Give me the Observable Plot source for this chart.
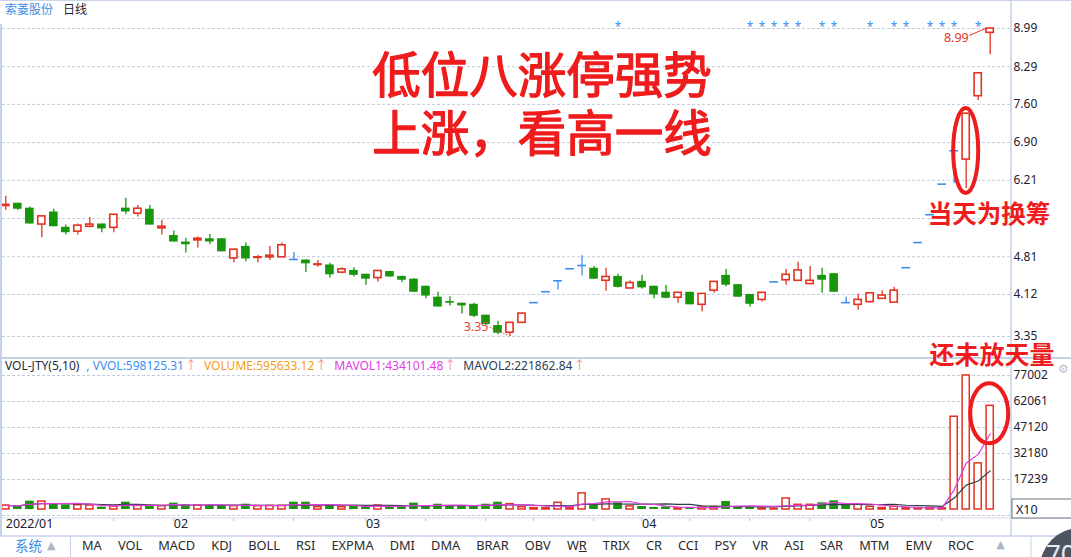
<!DOCTYPE html>
<html><head><meta charset="utf-8">
<script src="https://cdn.jsdelivr.net/npm/d3@7"></script>
<script src="https://cdn.jsdelivr.net/npm/@observablehq/plot@0.6"></script>
<style>
html,body{margin:0;padding:0;background:#fff;}
#wrap{position:relative;width:1071px;height:557px;overflow:hidden;background:#fff;font-family:"Noto Sans","Noto Sans CJK SC",sans-serif;}
.abs{position:absolute;white-space:nowrap;line-height:1;}
#price,#vol{position:absolute;left:0;}
#price{top:0}
#vol{top:359px}
#over{position:absolute;left:0;top:0;pointer-events:none}
#toolbar{position:absolute;left:82px;top:539px;display:flex;gap:16.1px;font-size:12.8px;color:#2a2a2a;white-space:nowrap;line-height:1;}
#vhdr{position:absolute;left:5px;top:360px;display:flex;gap:7px;font-size:12px;white-space:nowrap;line-height:1;}
</style></head><body>
<div id="wrap"></div>
<script>
// ---------- data ----------
const stockName = "索菱股份";
const period = "日线";
const monthLabels = ["2022/01","02","03","04","05"];
const monthStart = [0, 14, 30, 53, 72];
const weekTicks = [9, 14, 19, 24, 30, 35, 40, 44, 49, 53, 57, 62, 67, 72, 78];
const starDays = [51, 62, 63, 64, 65, 66, 68, 69, 72, 74, 75, 77, 78, 79, 81];
const open  = [5.74,5.79,5.70,5.40,5.63,5.35,5.27,5.36,5.41,5.34,5.70,5.60,5.68,5.33,5.20,5.08,5.11,5.14,5.14,4.78,5.00,4.79,4.80,4.80,4.76,4.75,4.66,4.66,4.52,4.56,4.49,4.42,4.54,4.45,4.40,4.27,4.07,3.99,3.96,3.94,3.74,3.55,3.42,3.60,3.97,4.17,4.37,4.59,4.65,4.60,4.37,4.45,4.23,4.36,4.27,4.16,4.06,4.16,3.93,4.19,4.47,4.30,4.12,4.02,4.35,4.38,4.37,4.31,4.47,4.50,3.97,3.93,3.98,4.04,3.97,4.61,5.07,5.58,6.14,6.75,6.59,7.75,8.91];
const high  = [5.92,5.79,5.72,5.55,5.68,5.39,5.41,5.53,5.41,5.58,5.88,5.75,5.75,5.48,5.28,5.15,5.17,5.22,5.14,4.94,5.06,4.84,5.00,5.06,4.89,4.75,4.74,4.69,4.61,4.61,4.49,4.55,4.54,4.46,4.41,4.27,4.16,4.08,3.96,3.96,3.74,3.63,3.60,3.77,3.97,4.17,4.37,4.59,4.83,4.63,4.60,4.49,4.37,4.47,4.27,4.29,4.15,4.16,4.13,4.35,4.58,4.30,4.12,4.15,4.35,4.58,4.71,4.63,4.60,4.50,4.07,4.13,4.14,4.19,4.25,4.61,5.07,5.58,6.14,6.75,7.43,8.18,8.99];
const low   = [5.66,5.66,5.41,5.16,5.36,5.21,5.21,5.34,5.25,5.25,5.59,5.54,5.39,5.21,5.08,4.88,4.97,5.03,4.90,4.70,4.72,4.70,4.74,4.80,4.76,4.52,4.62,4.42,4.50,4.44,4.29,4.35,4.44,4.34,4.16,4.04,3.89,3.91,3.76,3.70,3.55,3.38,3.35,3.60,3.97,4.17,4.20,4.59,4.46,4.40,4.18,4.24,4.23,4.22,4.04,4.04,3.96,3.93,3.80,4.14,4.26,4.07,3.89,3.98,4.35,4.29,4.37,4.31,4.14,4.16,3.97,3.83,3.96,4.03,3.97,4.61,5.07,5.58,6.14,6.15,6.06,7.67,8.51];
const close = [5.76,5.68,5.41,5.55,5.36,5.25,5.38,5.40,5.32,5.58,5.63,5.69,5.39,5.36,5.08,5.03,5.14,5.08,4.90,4.94,4.77,4.80,4.83,5.02,4.76,4.68,4.67,4.48,4.58,4.47,4.40,4.55,4.44,4.38,4.16,4.09,3.89,3.96,3.91,3.72,3.57,3.41,3.60,3.77,3.97,4.17,4.37,4.59,4.65,4.40,4.44,4.25,4.33,4.24,4.11,4.05,4.15,3.93,4.13,4.35,4.29,4.07,3.94,4.15,4.35,4.48,4.56,4.37,4.38,4.16,3.97,4.02,4.14,4.10,4.19,4.61,5.07,5.58,6.14,6.75,7.43,8.17,8.99];
const volume = [2300,1900,4800,4600,3450,2500,2500,2300,1350,1700,4200,2100,2300,1900,3650,2700,2300,2500,2300,1900,3050,1900,2100,2100,4200,4200,1350,2300,1350,2300,1550,2300,1700,1700,3650,1900,3050,2300,1700,1900,3050,4200,3050,1350,770,700,3850,800,9250,2300,5800,3850,1750,1750,1150,1550,770,770,1150,1150,4600,1750,1750,600,350,6350,2700,2700,3850,5000,2700,2700,1550,860,1550,700,800,900,700,53300,77002,26500,59563];
const priceTicks = [3.35, 4.12, 4.81, 5.51, 6.21, 6.90, 7.60, 8.29, 8.99];
const priceLabels = [3.35, 4.12, 4.81, 6.21, 6.90, 7.60, 8.29, 8.99];
const volTicks = [17239, 32180, 47120, 62061, 77002];
const volHeader = [
  {t:"VOL-JTY(5,10)", c:"#1f2b3b", arrow:false},
  {t:", VVOL:598125.31", c:"#3d8ef0", arrow:true},
  {t:"VOLUME:595633.12", c:"#f59d16", arrow:true},
  {t:"MAVOL1:434101.48", c:"#e23de2", arrow:true},
  {t:"MAVOL2:221862.84", c:"#2c3e50", arrow:true}
];
const toolbarItems = ["MA","VOL","MACD","KDJ","BOLL","RSI","EXPMA","DMI","DMA","BRAR","OBV","WR","TRIX","CR","CCI","PSY","VR","ASI","SAR","MTM","EMV","ROC"];
const title1 = "低位八涨停强势", title2 = "上涨，看高一线";
const note1 = "当天为换筹", note2 = "还未放天量";

// ---------- build ----------
const N = close.length;
const COL = {up:"#e4321f", down:"#17960b", flat:"#3a8df0"};
const candles = d3.range(N).map(i => ({i, o:open[i], h:high[i], l:low[i], c:close[i], v:volume[i]}));
candles.forEach((d,k) => {
  d.kind = d.c > d.o ? "up" : d.c < d.o ? "down" : "flat";
  const prev = k ? candles[k-1].c : d.c;
  d.vkind = d.kind !== "flat" ? d.kind : (d.c >= prev ? "up" : "down");
});
const ups = candles.filter(d => d.kind === "up");
const downs = candles.filter(d => d.kind === "down");
const flats = candles.filter(d => d.kind === "flat");
const vUps = candles.filter(d => d.vkind === "up");
const vDowns = candles.filter(d => d.vkind === "down");

const wrap = document.getElementById("wrap");
const FONT = "'Noto Sans','Noto Sans CJK SC',sans-serif";
const CJK = "'Noto Sans CJK SC',sans-serif";
const xRange = [5.3, 989.7];

const pricePlot = Plot.plot({
  width: 1071, height: 357,
  marginLeft: 2, marginRight: 61, marginTop: 0, marginBottom: 0,
  style: {fontFamily: FONT, fontSize: "12px", color: "#1c2030", background: "transparent", overflow: "visible"},
  x: {domain: [0, N - 1], range: xRange, axis: null},
  y: {domain: [3.35, 8.99], range: [336, 28], axis: "right", ticks: priceLabels, tickFormat: d => d.toFixed(2), tickSize: 0, tickPadding: 3, label: null},
  marks: [
    Plot.ruleY(priceTicks, {stroke: "#c3cbdf", strokeDasharray: "3,2", strokeWidth: 1}),
    Plot.ruleX(candles, {x: "i", y1: "l", y2: "h", stroke: d => COL[d.kind], strokeWidth: 1.3}),
    Plot.rect(ups, {x1: d => d.i - 0.3, x2: d => d.i + 0.3, y1: "o", y2: "c", fill: "#fff", stroke: COL.up, strokeWidth: 1.6}),
    Plot.rect(downs, {x1: d => d.i - 0.36, x2: d => d.i + 0.36, y1: "o", y2: "c", fill: COL.down}),
    Plot.ruleY(flats, {y: "c", x1: d => d.i - 0.36, x2: d => d.i + 0.36, stroke: COL.flat, strokeWidth: 1.6}),
    Plot.text(starDays, {x: d => d, frameAnchor: "top", dy: 22, text: () => "*", fill: "#3d8ef0", fontSize: 12})
  ]
});
pricePlot.id = "price";
wrap.appendChild(pricePlot);

const volPlot = Plot.plot({
  width: 1071, height: 178,
  marginLeft: 2, marginRight: 61, marginTop: 0, marginBottom: 0,
  style: {fontFamily: FONT, fontSize: "12px", color: "#1c2030", background: "transparent", overflow: "visible"},
  x: {domain: [0, N - 1], range: xRange, axis: null},
  y: {domain: [0, 77002], range: [150, 16], axis: "right", ticks: volTicks, tickFormat: d => String(d), tickSize: 0, tickPadding: 3, label: null},
  marks: [
    Plot.ruleY(volTicks, {stroke: "#c3cbdf", strokeDasharray: "3,2"}),
    Plot.rect(vUps, {x1: d => d.i - 0.3, x2: d => d.i + 0.3, y1: 0, y2: "v", fill: "#fff", stroke: COL.up, strokeWidth: 1.5}),
    Plot.rect(vDowns, {x1: d => d.i - 0.36, x2: d => d.i + 0.36, y1: 0, y2: "v", fill: COL.down}),
    Plot.lineY(candles, Plot.windowY({k: 10, anchor: "end", reduce: "mean"}, {x: "i", y: "v", stroke: "#2f3d4a", strokeWidth: 1.2})),
    Plot.lineY(candles, Plot.windowY({k: 5, anchor: "end", reduce: "mean"}, {x: "i", y: "v", stroke: "#e03ce0", strokeWidth: 1.2})),
    Plot.text(monthStart, {x: d => d, frameAnchor: "bottom", dy: -10, text: (d, k) => monthLabels[k], textAnchor: "start", fontSize: 12.5, fill: "#1c2030"})
  ]
});
volPlot.id = "vol";
wrap.appendChild(volPlot);

// ---------- overlay (annotations / chrome) ----------
const xs = v => pricePlot.scale("x").apply(v);
const ys = v => pricePlot.scale("y").apply(v);
const yv = v => volPlot.scale("y").apply(v) + 359;
const ov = d3.select(wrap).append("svg").attr("id", "over").attr("width", 1071).attr("height", 557)
  .style("font-family", FONT);

// frame lines
ov.append("line").attr("x1", 0).attr("x2", 1071).attr("y1", 0.5).attr("y2", 0.5).attr("stroke", "#c9d4e8");
ov.append("line").attr("x1", 1).attr("x2", 1).attr("y1", 24).attr("y2", 536).attr("stroke", "#c6d2ea").attr("stroke-width", 2);
ov.append("line").attr("x1", 1011).attr("x2", 1011).attr("y1", 0).attr("y2", 536).attr("stroke", "#c6d0e4").attr("stroke-width", 1.5);
ov.append("line").attr("x1", 0).attr("x2", 1071).attr("y1", 358).attr("y2", 358).attr("stroke", "#c5d1e7").attr("stroke-width", 2.2);
ov.append("line").attr("x1", 2).attr("x2", 1010).attr("y1", 515.5).attr("y2", 515.5).attr("stroke", "#c3cbdf").attr("stroke-dasharray", "3,2");
ov.append("line").attr("x1", 0).attr("x2", 1071).attr("y1", 518).attr("y2", 518).attr("stroke", "#d5dcea");
ov.append("line").attr("x1", 0).attr("x2", 1071).attr("y1", 536).attr("y2", 536).attr("stroke", "#c6d2ea").attr("stroke-width", 1.5);
ov.append("line").attr("x1", 70.5).attr("x2", 70.5).attr("y1", 536).attr("y2", 557).attr("stroke", "#c6d2ea");
ov.append("line").attr("x1", 1031).attr("x2", 1031).attr("y1", 536).attr("y2", 557).attr("stroke", "#c6d2ea");
weekTicks.forEach(i => ov.append("line").attr("x1", xs(i)).attr("x2", xs(i)).attr("y1", 518).attr("y2", 521).attr("stroke", "#c0c8d8"));

// X10 box
ov.append("rect").attr("x", 1012).attr("y", 499).attr("width", 60).attr("height", 19).attr("fill", "#fff").attr("stroke", "#6b7280").attr("stroke-width", 1);
ov.append("text").attr("x", 1016).attr("y", 514).attr("font-size", 12.5).attr("fill", "#1c2030").text("X10");

// 8.99 label
const hi = candles[N - 1];
ov.append("text").attr("x", xs(hi.i) - 21).attr("y", ys(hi.h) + 9).attr("text-anchor", "end").attr("dominant-baseline", "central")
  .attr("font-size", 12.5).attr("fill", "#e8352a").text(hi.h.toFixed(2));
ov.append("line").attr("x1", xs(hi.i) - 20.5).attr("y1", ys(hi.h) + 7.5).attr("x2", xs(hi.i) - 4).attr("y2", ys(hi.h) + 0.5).attr("stroke", "#e8352a");
// 3.35 label
const lo = candles.reduce((a, b) => b.l < a.l ? b : a);
ov.append("text").attr("x", xs(lo.i) - 21).attr("y", ys(lo.l) - 10).attr("text-anchor", "end").attr("dominant-baseline", "central")
  .attr("font-size", 12.5).attr("fill", "#ea4437").text(lo.l.toFixed(2));
ov.append("line").attr("x1", xs(lo.i) - 20).attr("y1", ys(lo.l) - 9).attr("x2", xs(lo.i) - 1).attr("y2", ys(lo.l) - 0.5)
  .attr("stroke", "#ea4437").attr("stroke-dasharray", "1.5,1.5");

// big annotation text
const RED = "#ee1c1c";
[[title1, 72], [title2, 130]].forEach(([t, y]) => {
  ov.append("text").attr("x", 542).attr("y", y).attr("text-anchor", "middle").attr("dominant-baseline", "central")
    .attr("font-family", CJK).attr("font-size", 48.5).attr("fill", RED)
    .attr("stroke", RED).attr("stroke-width", 1.3).attr("stroke-linejoin", "round").text(t);
});
ov.append("text").attr("x", 989).attr("y", 212).attr("text-anchor", "middle").attr("dominant-baseline", "central")
  .attr("font-family", CJK).attr("font-weight", "bold").attr("font-size", 24.5).attr("fill", RED).text(note1);
ov.append("text").attr("x", 992).attr("y", 353).attr("text-anchor", "middle").attr("dominant-baseline", "central")
  .attr("font-family", CJK).attr("font-weight", "bold").attr("font-size", 25).attr("fill", RED).text(note2);

// ellipses
const e1 = candles[80];
ov.append("ellipse").attr("cx", xs(e1.i)).attr("cy", (ys(e1.h) + ys(e1.l)) / 2).attr("rx", 12.5).attr("ry", 42.5)
  .attr("fill", "none").attr("stroke", RED).attr("stroke-width", 4);
const e2 = candles[N - 1];
ov.append("ellipse").attr("cx", xs(e2.i) - 0.5).attr("cy", yv(e2.v) + 8).attr("rx", 19).attr("ry", 30)
  .attr("fill", "none").attr("stroke", RED).attr("stroke-width", 4);

// gear
ov.append("text").attr("x", 1058).attr("y", 373).attr("font-family", "DejaVu Sans").attr("font-size", 12).attr("fill", "#b7c0d0").text("⚙");

// widget bottom right
ov.append("circle").attr("cx", 1080).attr("cy", 568).attr("r", 40).attr("fill", "#4e545f");
ov.append("text").attr("x", 1046).attr("y", 563).attr("font-size", 26).attr("fill", "#e8ecf2").text("70");

// ---------- HTML text ----------
function addText(txt, x, y, css) {
  const s = document.createElement("div");
  s.className = "abs";
  s.textContent = txt;
  s.style.left = x + "px"; s.style.top = y + "px";
  Object.assign(s.style, css || {});
  wrap.appendChild(s);
  return s;
}
addText(stockName, 5, 3, {fontSize: "12px", color: "#3a8ee6", fontFamily: CJK});
addText(period, 63, 3, {fontSize: "12px", color: "#1f2430", fontFamily: CJK});

const hdr = document.createElement("div");
hdr.id = "vhdr";
volHeader.forEach(h => {
  const s = document.createElement("span");
  s.textContent = h.t; s.style.color = h.c;
  if (h.arrow) {
    const a = document.createElement("span");
    a.textContent = "↑"; a.style.color = "#f28b8b"; a.style.marginLeft = "1px";
    s.appendChild(a);
  }
  hdr.appendChild(s);
});
wrap.appendChild(hdr);

addText("系统", 15, 539, {fontSize: "13.5px", color: "#3a8ee6", fontFamily: CJK});
addText("▲", 47, 540, {fontSize: "11px", color: "#aab4c6", fontFamily: "DejaVu Sans"});
const tb = document.createElement("div");
tb.id = "toolbar";
toolbarItems.forEach(t => {
  const s = document.createElement("span");
  if (t === "WR") { s.innerHTML = "W<u>R</u>"; } else s.textContent = t;
  tb.appendChild(s);
});
const tri = document.createElement("span");
tri.textContent = "▲"; tri.style.color = "#aab4c6"; tri.style.fontFamily = "DejaVu Sans"; tri.style.fontSize = "11px"; tri.style.marginLeft = "6px";
tb.appendChild(tri);
wrap.appendChild(tb);
</script>
</body></html>
